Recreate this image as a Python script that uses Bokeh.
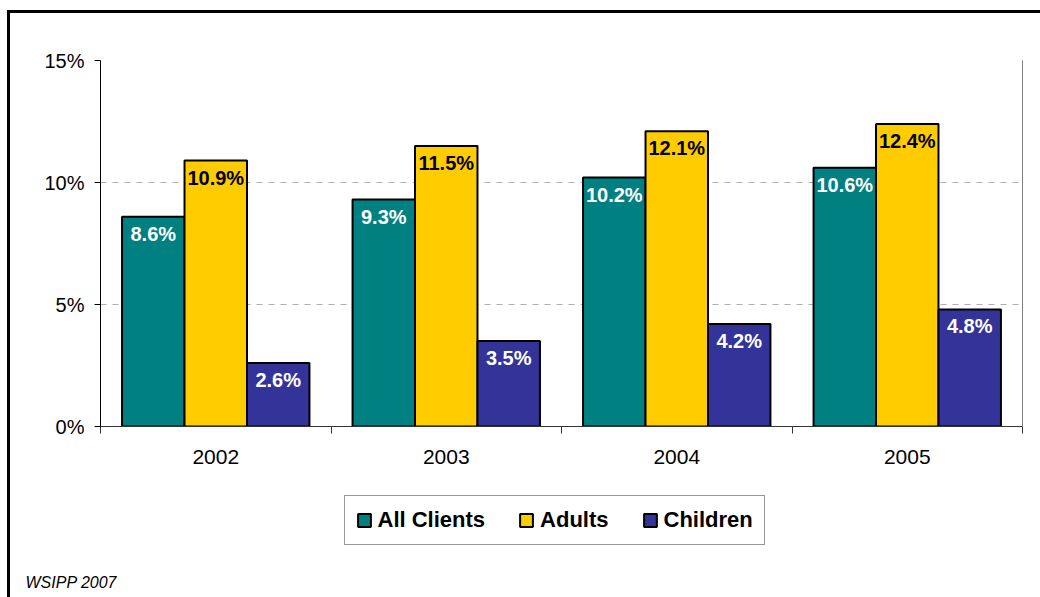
from bokeh.plotting import figure
from bokeh.layouts import column
from bokeh.models import (Range1d, FixedTicker, LinearAxis, Legend, LegendItem,
                          Title, ColumnDataSource)
from bokeh.transform import dodge
from bokeh.core.properties import value
from bokeh.embed import file_html
from bokeh.resources import INLINE

# ---- data ----
years = ["2002", "2003", "2004", "2005"]
all_clients = [8.6, 9.3, 10.2, 10.6]
adults = [10.9, 11.5, 12.1, 12.4]
children = [2.6, 3.5, 4.2, 4.8]
series_names = ["All Clients", "Adults", "Children"]
y_ticks = [0, 5, 10, 15]
y_tick_labels = ["0%", "5%", "10%", "15%"]
source_note = "WSIPP 2007"

# ---- style ----
colors = ["#008080", "#FFCC00", "#333399"]
label_colors = ["white", "black", "white"]
FONT = "Liberation Sans"
BW = 0.271
offsets = [-BW, 0.0, BW]

xc = [i + 0.5 for i in range(len(years))]
series = [all_clients, adults, children]
data = dict(x=xc)
for k, vals in enumerate(series):
    data[f"v{k}"] = vals
    data[f"t{k}"] = [f"{v:.1f}%" for v in vals]
src = ColumnDataSource(data)

# ---------------- main chart ----------------
p = figure(width=1030, height=467, output_backend="svg", toolbar_location=None,
           x_range=Range1d(0, len(years)), y_range=Range1d(y_ticks[0], y_ticks[-1]),
           min_border_left=90, min_border_right=18, min_border_top=47,
           min_border_bottom=54)
p.outline_line_color = None
p.background_fill_color = "white"
p.border_fill_color = "white"

renderers = []
for k in range(3):
    r = p.vbar(x=dodge("x", offsets[k], range=p.x_range), top=f"v{k}", width=BW,
               bottom=0, source=src, fill_color=colors[k], line_color="black",
               line_width=2)
    renderers.append(r)
for k in range(3):
    p.text(x=dodge("x", offsets[k], range=p.x_range), y=f"v{k}", text=f"t{k}",
           source=src, text_align="center", text_baseline="middle", y_offset=17,
           text_font=value(FONT), text_font_style="bold", text_font_size="20px",
           text_color=label_colors[k])

xa = p.xaxis[0]
xa.ticker = FixedTicker(ticks=xc, minor_ticks=list(range(len(years) + 1)))
xa.major_label_overrides = {x: y for x, y in zip(xc, years)}
xa.major_tick_line_color = None
xa.major_tick_out = 0
xa.major_tick_in = 0
xa.minor_tick_out = 7
xa.minor_tick_in = 0
xa.minor_tick_line_color = "#333333"
xa.axis_line_color = "#333333"
xa.major_label_text_font = FONT
xa.major_label_text_font_size = "21px"
xa.major_label_text_color = "black"
xa.major_label_standoff = 16

ya = p.yaxis[0]
ya.ticker = FixedTicker(ticks=y_ticks)
ya.major_label_overrides = {t: l for t, l in zip(y_ticks, y_tick_labels)}
ya.major_tick_out = 6
ya.major_tick_in = 0
ya.minor_tick_line_color = None
ya.axis_line_color = "black"
ya.major_tick_line_color = "black"
ya.major_label_text_font = FONT
ya.major_label_text_font_size = "20px"
ya.major_label_text_color = "black"
ya.major_label_standoff = 10

ra = LinearAxis(ticker=FixedTicker(ticks=[]), axis_line_color="#808080",
                major_tick_line_color=None, minor_tick_line_color=None,
                major_label_text_font_size="0px")
p.add_layout(ra, "right")

p.xgrid.visible = False
p.ygrid.ticker = FixedTicker(ticks=y_ticks[1:])
p.ygrid.grid_line_color = "#b0b0b0"
p.ygrid.grid_line_dash = "6 6"
p.ygrid.grid_line_width = 1

# ---------------- legend / note strip ----------------
q = figure(width=1030, height=117, output_backend="svg", toolbar_location=None,
           x_range=Range1d(0, 1), y_range=Range1d(0, 1),
           x_axis_type=None, y_axis_type=None, min_border=0,
           min_border_bottom=26)
q.outline_line_color = None
q.grid.visible = False
q.background_fill_color = "white"
q.border_fill_color = "white"

# legend swatch carriers (zero-size, hidden beneath the legend box)
swatches = []
for k in range(3):
    swatches.append(q.vbar(x=[0.5], top=[0.5], bottom=[0.5], width=0.0,
                           fill_color=colors[k], line_color="black", line_width=2))

legend = Legend(items=[LegendItem(label=n, renderers=[r]) for n, r in zip(series_names, swatches)],
                orientation="horizontal", location=(243.5, 26))
legend.label_text_font = FONT
legend.label_text_font_style = "bold"
legend.label_text_font_size = "22px"
legend.label_text_color = "black"
legend.glyph_width = 16
legend.glyph_height = 16
legend.label_standoff = 6
legend.spacing = 33
legend.padding = 11
legend.margin = 0
legend.border_line_color = "#333333"
legend.border_line_width = 1
legend.background_fill_alpha = 1
q.add_layout(legend, "center")

note = Title(text=source_note, align="left", offset=-75, text_font=FONT,
             text_font_style="italic", text_font_size="16px", text_color="black",
             standoff=0)
q.add_layout(note, "below")

layout = column(p, q, spacing=0)
layout.styles = {"margin-left": "7px", "margin-top": "10px",
                 "border-left": "3px solid black", "border-top": "3px solid black"}

open("out.html", "w").write(file_html(layout, INLINE))
